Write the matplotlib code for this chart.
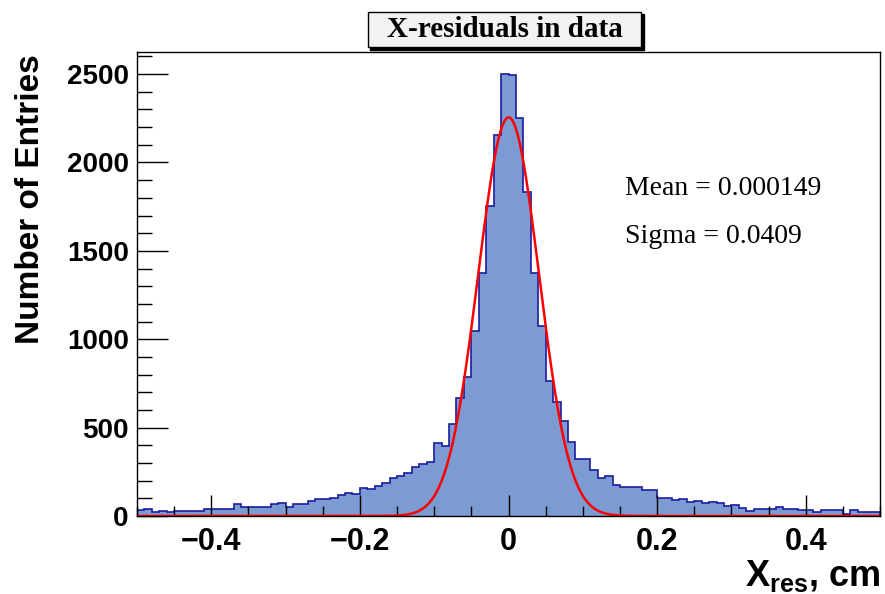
import numpy as np
import matplotlib
matplotlib.use("Agg")
import matplotlib.pyplot as plt
from matplotlib.patches import Rectangle

plt.rcParams['font.family'] = ['Liberation Sans', 'DejaVu Sans']
plt.rcParams['mathtext.fontset'] = 'custom'
plt.rcParams['mathtext.rm'] = 'Liberation Sans'
plt.rcParams['mathtext.bf'] = 'Liberation Sans:bold'

# histogram: 100 bins from -0.5 to 0.5 cm
x_min, x_max, n_bins = -0.5, 0.5, 100
counts = [32, 38, 23, 30, 24, 30, 30, 30, 30, 38,
          38, 38, 38, 66, 53, 53, 53, 53, 67, 75,
          52, 67, 67, 83, 97, 97, 104, 118, 132, 126,
          161, 155, 169, 187, 217, 226, 245, 276, 294, 304,
          412, 396, 521, 666, 789, 1047, 1373, 1756, 2155, 2500,
          2494, 2250, 1834, 1373, 1075, 764, 643, 537, 420, 320,
          320, 263, 216, 226, 178, 162, 162, 162, 147, 147,
          102, 102, 89, 94, 81, 87, 74, 81, 74, 57,
          60, 46, 31, 39, 39, 39, 53, 42, 41, 36,
          34, 25, 33, 33, 32, 14, 32, 25, 25, 25]

# gaussian fit
fit_mean = 0.000149
fit_sigma = 0.0409
fit_amp = 2255

title = "X-residuals in data"
stats = ["Mean = 0.000149", "Sigma = 0.0409"]

edges = np.linspace(x_min, x_max, n_bins + 1)
xf = np.linspace(x_min, x_max, 1000)
yf = fit_amp * np.exp(-0.5 * ((xf - fit_mean) / fit_sigma) ** 2)

fig = plt.figure(figsize=(8.85, 5.94), dpi=100)
ax = fig.add_axes([137 / 885, 1 - 516 / 594, (880 - 137) / 885, (516 - 52) / 594])

ax.stairs(counts, edges, fill=True, color='#7b9bd2', lw=0)
ax.stairs(counts, edges, color='#1c1ca0', lw=1.2)
ax.plot(xf, yf, color='#ff0000', lw=1.8)

ax.set_xlim(x_min, x_max)
ax.set_ylim(0, 1.05 * max(counts))

ax.set_xticks([-0.4, -0.2, 0, 0.2, 0.4])
ax.set_xticklabels(['\u22120.4', '\u22120.2', '0', '0.2', '0.4'])
ax.set_xticks(np.arange(-0.5, 0.501, 0.05), minor=True)
ax.set_yticks([0, 500, 1000, 1500, 2000, 2500])
ax.set_yticks(np.arange(0, 2601, 100), minor=True)
ax.tick_params(axis='both', which='both', direction='in', width=1)
ax.tick_params(axis='x', which='major', length=15, pad=8, labelsize=22)
ax.tick_params(axis='x', which='minor', length=7)
ax.tick_params(axis='y', which='major', length=22, pad=6, labelsize=20)
ax.tick_params(axis='y', which='minor', length=11)
for lab in ax.get_xticklabels() + ax.get_yticklabels():
    lab.set_fontweight('bold')
for sp in ax.spines.values():
    sp.set_linewidth(1)

fig.text(0.034, 1 - 54 / 594, "Number of Entries", rotation=90, ha='center', va='top',
         fontsize=24, fontweight='bold')
fig.text(880 / 885, 0.03, r'$\mathbf{X_{res}}$, cm', ha='right', va='center',
         fontsize=26, fontweight='bold')

# stats text
ax.text(0.657, 0.705, stats[0], transform=ax.transAxes, fontsize=20,
        family=['Liberation Serif'], va='center')
ax.text(0.657, 0.603, stats[1], transform=ax.transAxes, fontsize=20,
        family=['Liberation Serif'], va='center')

# title box with shadow
bx0, bx1 = 368 / 885, 641 / 885
by0, by1 = 1 - 47 / 594, 1 - 12 / 594
fig.patches.append(Rectangle((bx0 + 2.5 / 885, by0 - 2.5 / 594), bx1 - bx0, by1 - by0,
                             transform=fig.transFigure, facecolor='black', edgecolor='black'))
fig.patches.append(Rectangle((bx0, by0), bx1 - bx0, by1 - by0, transform=fig.transFigure,
                             facecolor='#f2f2f2', edgecolor='black', lw=1))
fig.text((bx0 + bx1) / 2, (by0 + by1) / 2, title, ha='center', va='center', fontsize=21,
         fontweight='bold', family=['Liberation Serif'])

fig.savefig("out.png", dpi=100)
